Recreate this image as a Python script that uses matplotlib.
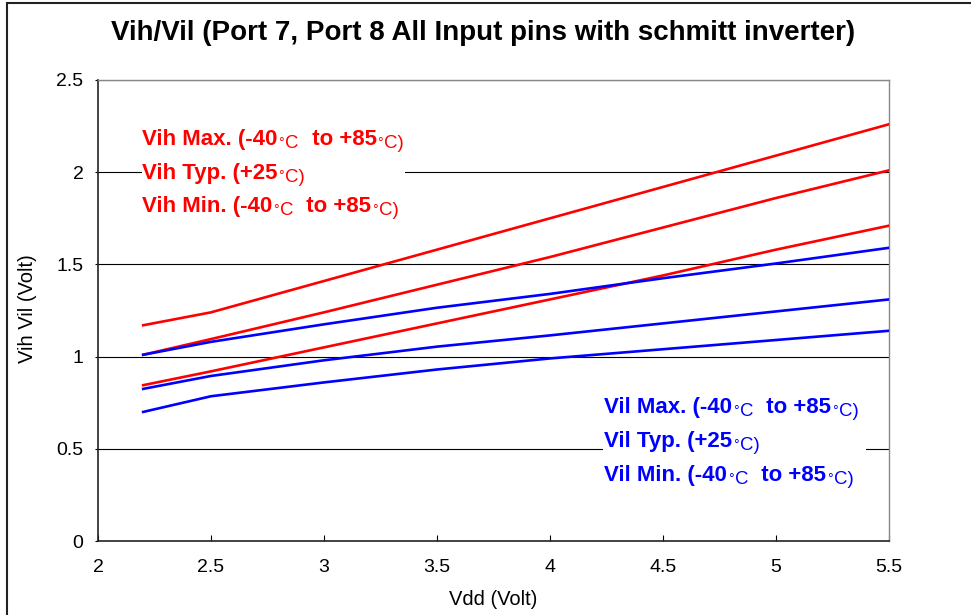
import numpy as np
import matplotlib
matplotlib.use("Agg")
import matplotlib.pyplot as plt
from matplotlib.patches import Rectangle

plt.rcParams['font.family'] = ['Liberation Sans', 'DejaVu Sans']

# data
vdd = [2.2, 2.5, 3.0, 3.5, 4.0, 4.5, 5.0, 5.5]
vih_max = [1.17, 1.24, 1.41, 1.58, 1.75, 1.92, 2.09, 2.26]
vih_typ = [1.01, 1.095, 1.24, 1.39, 1.54, 1.70, 1.86, 2.01]
vih_min = [0.845, 0.92, 1.05, 1.18, 1.31, 1.44, 1.58, 1.71]
vil_max = [1.01, 1.08, 1.175, 1.265, 1.34, 1.425, 1.505, 1.59]
vil_typ = [0.825, 0.895, 0.98, 1.054, 1.115, 1.18, 1.245, 1.31]
vil_min = [0.70, 0.785, 0.86, 0.93, 0.99, 1.04, 1.09, 1.14]

xticks = [2, 2.5, 3, 3.5, 4, 4.5, 5, 5.5]
yticks = [0, 0.5, 1, 1.5, 2, 2.5]

# label pieces: b = bold text, d = small degree sign, r = regular lowered text
vih_labels = [[('Vih Max. (-40', 'b'), ('°', 'd'), ('C', 'r'), ('  to +85', 'b'), ('°', 'd'), ('C)', 'r')],
              [('Vih Typ. (+25', 'b'), ('°', 'd'), ('C)', 'r')],
              [('Vih Min. (-40', 'b'), ('°', 'd'), ('C', 'r'), ('  to +85', 'b'), ('°', 'd'), ('C)', 'r')]]
vil_labels = [[('Vil Max. (-40', 'b'), ('°', 'd'), ('C', 'r'), ('  to +85', 'b'), ('°', 'd'), ('C)', 'r')],
              [('Vil Typ. (+25', 'b'), ('°', 'd'), ('C)', 'r')],
              [('Vil Min. (-40', 'b'), ('°', 'd'), ('C', 'r'), ('  to +85', 'b'), ('°', 'd'), ('C)', 'r')]]

W, H = 971, 615
fig = plt.figure(figsize=(W/100, H/100), dpi=100)
ax = fig.add_axes([98/W, 1-541/H, (889-98)/W, (541-80)/H])

# outer frame of the figure
fig.patches.append(Rectangle((7/W, -0.1), 1.2, 1-3/H+0.1, transform=fig.transFigure,
                             fill=False, edgecolor='#222222', linewidth=1.5))

for yv in yticks[1:]:
    ax.axhline(yv, color='black', linewidth=0.8, zorder=1)

lw = 1.9
ax.plot(vdd, vih_max, color='#ff0000', lw=lw, zorder=3)
ax.plot(vdd, vih_typ, color='#ff0000', lw=lw, zorder=3)
ax.plot(vdd, vih_min, color='#ff0000', lw=lw, zorder=3)
ax.plot(vdd, vil_max, color='#0000ff', lw=lw, zorder=3)
ax.plot(vdd, vil_typ, color='#0000ff', lw=lw, zorder=3)
ax.plot(vdd, vil_min, color='#0000ff', lw=lw, zorder=3)

ax.set_xlim(2, 5.5)
ax.set_ylim(0, 2.5)
ax.set_xticks(xticks)
ax.set_xticklabels(['2', '2.5', '3', '3.5', '4', '4.5', '5', '5.5'])
ax.set_yticks(yticks)
ax.set_yticklabels(['0', '0.5', '1', '1.5', '2', '2.5'])
ax.tick_params(axis='x', direction='in', length=4, labelsize=14, pad=13)
ax.tick_params(axis='y', direction='out', length=2, labelsize=14, pad=8.5)

for s in ['top', 'right']:
    ax.spines[s].set_color('#888888')
    ax.spines[s].set_linewidth(1.0)
for s in ['left', 'bottom']:
    ax.spines[s].set_color('#222222')
    ax.spines[s].set_linewidth(1.2)

ax.set_xlabel('Vdd (Volt)', fontsize=14.5)
ax.xaxis.set_label_coords(0.5, (541-590)/461)
ax.set_ylabel('Vih Vil (Volt)', fontsize=14.5)
ax.yaxis.set_label_coords((37-98)/791, 0.505)

fig.text(483/W, 1-33/H, 'Vih/Vil (Port 7, Port 8 All Input pins with schmitt inverter)',
         ha='center', va='center', fontsize=20, fontweight='bold')

# white boxes behind the label blocks (they hide the gridlines)
ax.add_patch(Rectangle((142/W, 1-222/H), (405-142)/W, (222-120)/H, transform=fig.transFigure,
                       facecolor='white', edgecolor='none', zorder=2))
ax.add_patch(Rectangle((603/W, 1-490/H), (866-603)/W, (490-390)/H, transform=fig.transFigure,
                       facecolor='white', edgecolor='none', zorder=2))

renderer = fig.canvas.get_renderer()
styles = {'b': (16, 'bold', 0.0), 'd': (10, 'normal', 1.9), 'r': (13.4, 'normal', 3.3)}


def rich_line(x, y, pieces, color):
    # x, y in image pixels (y = baseline from top)
    for txt, kind in pieces:
        size, weight, dy = styles[kind]
        t = fig.text(x/W, 1-(y+dy)/H, txt, fontsize=size, fontweight=weight,
                     color=color, ha='left', va='baseline')
        x = t.get_window_extent(renderer).x1 + 1


for i, pieces in enumerate(vih_labels):
    rich_line(142, 145 + 33.5*i, pieces, '#ff0000')
for i, pieces in enumerate(vil_labels):
    rich_line(604, 413 + 34*i, pieces, '#0000ff')

fig.savefig('out.png', dpi=100)
